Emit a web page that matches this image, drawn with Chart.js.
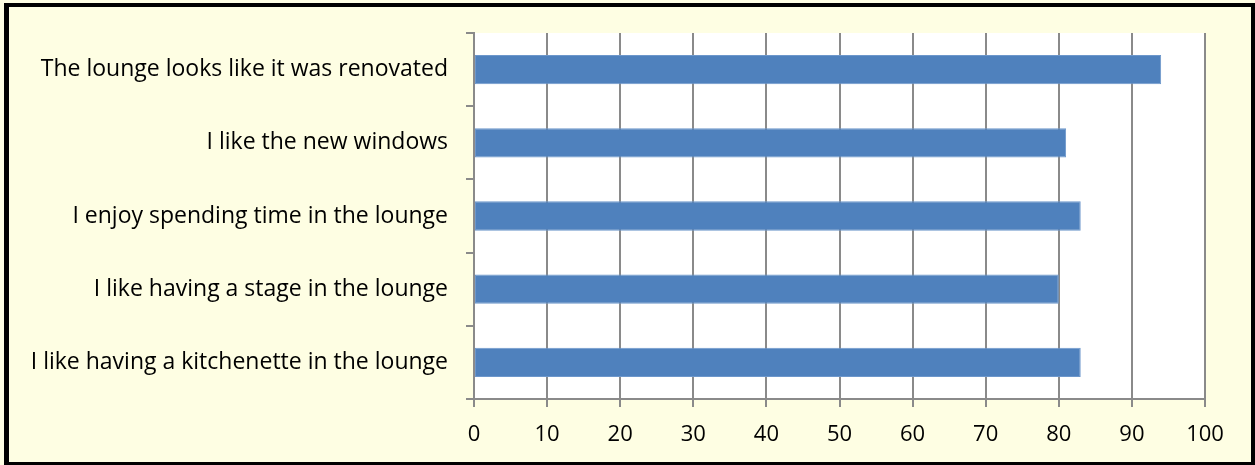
<!DOCTYPE html>
<html>
<head>
<meta charset="utf-8">
<script src="https://cdn.jsdelivr.net/npm/chart.js@4/dist/chart.umd.min.js"></script>
<style>
  html, body { margin: 0; padding: 0; background: #fff; }
  #wrap { width: 1255px; height: 465px; position: relative; }
</style>
</head>
<body>
<div id="wrap"><canvas id="loungeChart" width="1255" height="465"></canvas></div>
<script>
const categories = [
    "The lounge looks like it was renovated",
    "I like the new windows",
    "I enjoy spending time in the lounge",
    "I like having a stage in the lounge",
    "I like having a kitchenette in the lounge",
];
const agreeValues = [94, 81, 83, 80, 83];
const xTicks = [0, 10, 20, 30, 40, 50, 60, 70, 80, 90, 100];

const gridGray = "#8a8a8a";

// yellow background, white plot area, black frame
const frame = {
    id: "frame",
    beforeDraw(chart) {
        const { ctx, chartArea: a, width, height } = chart;
        ctx.save();
        ctx.fillStyle = "#fefee3";
        ctx.fillRect(0, 0, width, height);
        ctx.fillStyle = "#ffffff";
        ctx.fillRect(a.left, a.top, a.right - a.left, a.bottom - a.top);
        ctx.strokeStyle = "#000";
        ctx.lineWidth = 4;
        ctx.strokeRect(6, 5, width - 8, height - 6);
        ctx.fillStyle = "#000";
        ctx.fillRect(4, 4, 5, height - 6);
        ctx.restore();
    },
};

const ctx = document.getElementById("loungeChart").getContext("2d");

new Chart(ctx, {
    type: "bar",
    data: {
        labels: categories,
        datasets: [
            {
                data: agreeValues,
                backgroundColor: "#4f81bd",
                borderColor: "#6d97cb",
                borderWidth: 1,
                borderSkipped: false,
                barPercentage: 0.4,
                categoryPercentage: 1,
            },
        ],
    },
    options: {
        indexAxis: "y",
        responsive: false,
        animation: false,
        layout: { padding: { left: 10, right: 50, top: 33, bottom: 10 } },
        plugins: {
            legend: { display: false },
            tooltip: { enabled: false },
        },
        scales: {
            x: {
                min: 0,
                max: 100,
                afterBuildTicks(scale) {
                    scale.ticks = xTicks.map((v) => ({ value: v }));
                },
                afterFit(scale) {
                    scale.height = 465 - 399 - 10;
                },
                grid: {
                    color: gridGray,
                    lineWidth: 2,
                    drawTicks: true,
                    tickLength: 8,
                },
                border: { color: gridGray, width: 2 },
                ticks: {
                    color: "#000",
                    padding: 15,
                    font: { family: "Open Sans", size: 22 },
                },
            },
            y: {
                afterFit(scale) {
                    scale.width = 474 - 10;
                },
                grid: {
                    color: gridGray,
                    lineWidth: 2,
                    drawOnChartArea: false,
                    drawTicks: true,
                    tickLength: 8,
                    offset: true,
                },
                border: { color: gridGray, width: 2 },
                ticks: {
                    color: "#000",
                    padding: 18,
                    font: { family: "Open Sans", size: 23 },
                },
            },
        },
    },
    plugins: [frame],
});
</script>
</body>
</html>
